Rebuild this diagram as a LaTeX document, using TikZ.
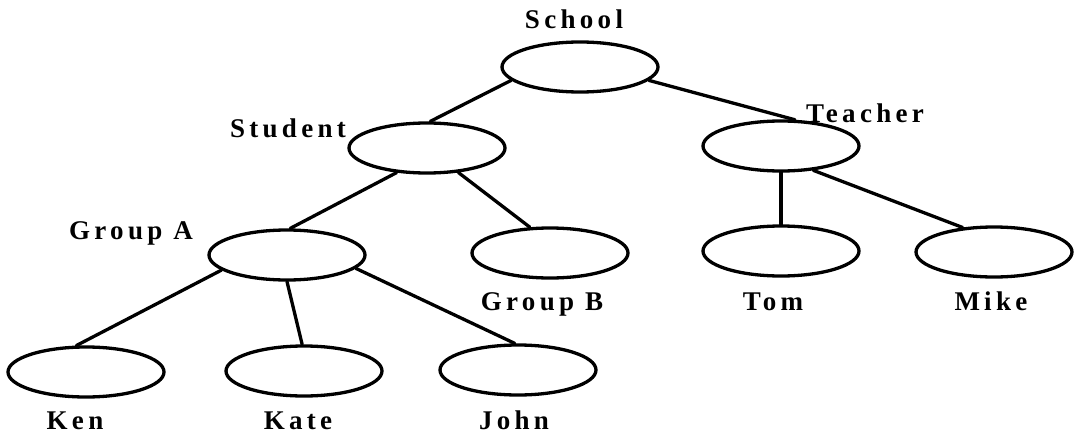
\documentclass[tikz,border=0pt]{standalone}
\usepackage{fontspec}
\setmainfont{Liberation Serif}[LetterSpace=16]
\usetikzlibrary{shapes.geometric}
\begin{document}
\begin{tikzpicture}[x=1pt,y=-1pt,
  oval/.style={draw=black, line width=3.3pt, ellipse, minimum width=156pt, minimum height=50pt, inner sep=0pt},
  lbl/.style={anchor=base, inner sep=0pt, font=\fontsize{27}{31}\selectfont\bfseries},
  link/.style={line width=3.3pt, line cap=round}]
\useasboundingbox (0,0) rectangle (1083,433);
% ellipses
\node[oval] (school) at (580,67) {};
\node[oval] (student) at (427,148) {};
\node[oval] (teacher) at (781,146) {};
\node[oval] (groupa) at (287,255) {};
\node[oval] (groupb) at (550,253) {};
\node[oval] (tom) at (781,251) {};
\node[oval] (mike) at (994,252) {};
\node[oval] (ken) at (86,372) {};
\node[oval] (kate) at (304,371) {};
\node[oval] (john) at (518,370) {};
% labels
\node[lbl] (lschool) at (574,29) {School};
\node[lbl] (lstudent) at (288,137) {Student};
\node[lbl] (lteacher) at (865,123) {Teacher};
\node[lbl] (lgroupa) at (131,239) {Group A};
\node[lbl] (lgroupb) at (542,310) {Group B};
\node[lbl] (ltom) at (773,310) {Tom};
\node[lbl] (lmike) at (991,310) {M\kern4pt ike};
\node[lbl] (lken) at (75,429) {Ken};
\node[lbl] (lkate) at (298,429) {Kate};
\node[lbl] (ljohn) at (514,429) {John};
% connectors
\draw[link] (school.191) -- (student.83);
\draw[link] (school.-11) -- (teacher.62);
\draw[link] (student.219) -- (groupa.83);
\draw[link] (student.-38) -- (groupb.128);
\draw[link] (teacher.270) -- (tom.90);
\draw[link] (teacher.-37) -- (mike.142);
\draw[link] (groupa.193) -- (ken.110);
\draw[link] (groupa.270) -- (kate.94);
\draw[link] (groupa.-11) -- (john.97);
\end{tikzpicture}
\end{document}
